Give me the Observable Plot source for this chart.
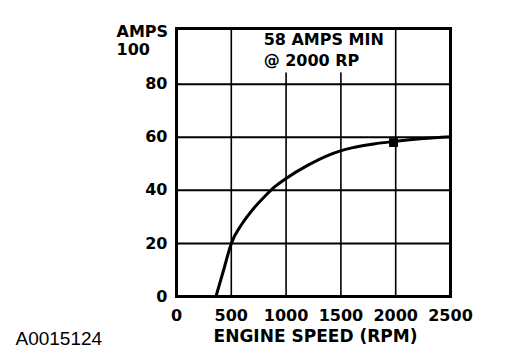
<!DOCTYPE html>
<html>
<head>
<meta charset="utf-8">
<script src="https://cdn.jsdelivr.net/npm/d3@7"></script>
<script src="https://cdn.jsdelivr.net/npm/@observablehq/plot@0.6"></script>
<style>
  html, body { margin: 0; padding: 0; background: #fff; }
  #chart { width: 512px; height: 364px; }
</style>
</head>
<body>
<div id="chart"></div>
<script>
// Tick values
const xTicks = [0, 500, 1000, 1500, 2000, 2500];
const yTicks = [0, 20, 40, 60, 80];
const yTopLabel = "AMPS\n100";
const xLabel = "ENGINE SPEED (RPM)";
const caption = "A0015124";

// Output curve (engine rpm -> amps)
const rpm  = [360, 430, 500, 600, 700, 800, 900, 1000, 1200, 1400, 1600, 1800, 2000, 2250, 2500];
const amps = [0,   10,  20,  27.5, 33, 37.5, 41.5, 44.5, 49.5, 53.5, 56,  57.5, 58.5, 59.5, 60.2];

// Specification point
const specRpm = [1980];
const specAmps = [58];

// Annotation
const noteText = ["58 AMPS MIN\n@ 2000 RP"];
const noteRpm = [795];
const noteAmps = [93.4];

const curve = rpm.map((r, i) => ({rpm: r, amps: amps[i]}));
const spec = specRpm.map((r, i) => ({rpm: r, amps: specAmps[i]}));
const note = noteText.map((t, i) => ({text: t, rpm: noteRpm[i], amps: noteAmps[i]}));

const chart = Plot.plot({
  width: 512,
  height: 364,
  marginLeft: 176,
  marginRight: 62,
  marginTop: 28,
  marginBottom: 68,
  style: {fontFamily: "DejaVu Sans", fontSize: "16px", fontWeight: "bold", color: "#000", background: "#fff"},
  x: {domain: [0, 2500]},
  y: {domain: [0, 101]},
  marks: [
    Plot.ruleX(xTicks.slice(1, -1), {stroke: "#000", strokeWidth: 1.6}),
    Plot.ruleY(yTicks.slice(1), {stroke: "#000", strokeWidth: 2}),
    Plot.text(note, {x: "rpm", y: "amps", text: "text", textAnchor: "start", lineAnchor: "middle",
      lineHeight: 1.34, fontSize: 16, fontWeight: "bold", fill: "#000", stroke: "#fff", strokeWidth: 13}),
    Plot.line(curve, {x: "rpm", y: "amps", curve: "monotone-x", stroke: "#000", strokeWidth: 3}),
    Plot.dot(spec, {x: "rpm", y: "amps", symbol: "square", r: 5, fill: "#000", stroke: "none"}),
    Plot.frame({stroke: "#000", strokeWidth: 3}),
    Plot.axisX({ticks: xTicks, tickFormat: d => String(d), tickSize: 0, tickPadding: 13, label: null, fontSize: 16}),
    Plot.axisY({ticks: yTicks, tickFormat: d => String(d), tickSize: 0, tickPadding: 9, label: null, fontSize: 16}),
    Plot.text([yTopLabel], {frameAnchor: "top-left", textAnchor: "start", lineAnchor: "middle",
      dx: -60, dy: 12, lineHeight: 1.09, fontSize: 16, fontWeight: "bold", fill: "#000"}),
    Plot.text([xLabel], {frameAnchor: "bottom", lineAnchor: "middle", dx: 2, dy: 40.5,
      fontSize: 17, fontWeight: "bold", fill: "#000"}),
    Plot.text([caption], {frameAnchor: "bottom-left", textAnchor: "start", lineAnchor: "middle",
      dx: -161, dy: 42.5, fontSize: 19, fontWeight: "normal", fontFamily: "Liberation Sans", fill: "#000"})
  ]
});
document.getElementById("chart").appendChild(chart);
</script>
</body>
</html>
